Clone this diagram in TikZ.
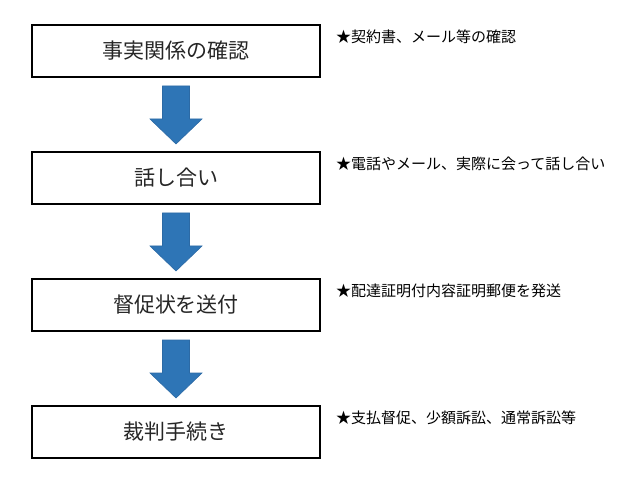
\documentclass[tikz,border=0pt]{standalone}
\usepackage{fontspec}
\usepackage{tikz}
\usetikzlibrary{positioning,calc}
\newfontfamily\jpfont{Noto Sans CJK JP}
\definecolor{flowblue}{HTML}{2E75B6}
\definecolor{flowedge}{HTML}{2C6AA5}

\tikzset{
  stepbox/.style={draw, line width=2pt, minimum width=288pt, minimum height=52pt,
    inner sep=0pt, font=\jpfont\fontsize{21pt}{21pt}\selectfont, text=black!85},
  note/.style={inner sep=0pt, font=\jpfont\fontsize{15pt}{15pt}\selectfont},
  arrowfill/.style={fill=flowblue, draw=flowedge, line width=0.6pt}
}
\newcommand{\flowarrow}[2]{%
  \filldraw[arrowfill] ($(#1.south)+(-13.5,8)$) -- ($(#1.south)+(13.5,8)$)
    -- ($(#1.south)+(13.5,41)$) -- ($(#1.south)+(26,41)$) -- ($(#2.north)+(0,-7)$)
    -- ($(#1.south)+(-26,41)$) -- ($(#1.south)+(-13.5,41)$) -- cycle;}

\begin{document}
\begin{tikzpicture}[x=1pt, y=-1pt]
  \useasboundingbox (0,0) rectangle (622,484);
  \node [stepbox] (fact) at (176,51) {事実関係の確認};
  \node [stepbox, below=73pt of fact] (talk) {話し合い};
  \node [stepbox, below=73pt of talk] (demand) {督促状を送付};
  \node [stepbox, below=73pt of demand] (court) {裁判手続き};

  \node [note, below right=6pt and 15pt of fact.north east] (factnote) {★契約書、メール等の確認};
  \node [note, below right=6pt and 15pt of talk.north east] (talknote) {★電話やメール、実際に会って話し合い};
  \node [note, below right=6pt and 15pt of demand.north east] (demandnote) {★配達証明付内容証明郵便を発送};
  \node [note, below right=6pt and 15pt of court.north east] (courtnote) {★支払督促、少額訴訟、通常訴訟等};

  \flowarrow{fact}{talk}
  \flowarrow{talk}{demand}
  \flowarrow{demand}{court}
\end{tikzpicture}
\end{document}
